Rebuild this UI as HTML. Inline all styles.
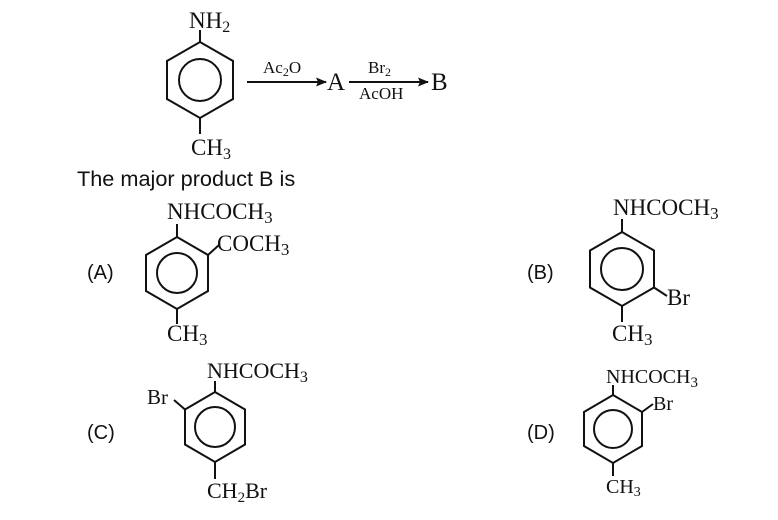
<!DOCTYPE html>
<html><head><style>
html,body{margin:0;padding:0;background:#fff;}
svg{display:block;}
.s{font-family:"Liberation Serif",serif;fill:#111;}
.a{font-family:"Liberation Sans",sans-serif;fill:#111;}
</style></head><body>
<svg width="778" height="520" viewBox="0 0 778 520" xmlns="http://www.w3.org/2000/svg">
<defs><marker id="ar" markerWidth="11" markerHeight="9" refX="10" refY="4.5" orient="auto" markerUnits="userSpaceOnUse"><path d="M0,0 L11,4.5 L0,9 L2,4.5 z" fill="#111"/></marker></defs>
<g fill="none" stroke="#111" stroke-width="2">
<polygon points="200,42 233,61 233,99 200,118 167,99 167,61"/>
<circle cx="200" cy="80" r="21"/>
<line x1="200" y1="30" x2="200" y2="42"/>
<line x1="200" y1="118" x2="200" y2="134"/>
<line x1="247" y1="82" x2="326" y2="82" marker-end="url(#ar)"/>
<line x1="349" y1="82" x2="428" y2="82" marker-end="url(#ar)"/>
<polygon points="177,237 208,255 208,291 177,309 146,291 146,255"/>
<circle cx="177" cy="273" r="20"/>
<line x1="177" y1="224" x2="177" y2="237"/>
<line x1="208" y1="255" x2="219" y2="245"/>
<line x1="177" y1="309" x2="177" y2="324"/>
<polygon points="622,232 654,250.5 654,287.5 622,306 590,287.5 590,250.5"/>
<circle cx="622" cy="269" r="21"/>
<line x1="622" y1="219" x2="622" y2="232"/>
<line x1="654" y1="287.5" x2="667" y2="296"/>
<line x1="622" y1="306" x2="622" y2="322"/>
<polygon points="215,392 245,409.5 245,444.5 215,462 185,444.5 185,409.5"/>
<circle cx="215" cy="427" r="20"/>
<line x1="215" y1="381" x2="215" y2="392"/>
<line x1="185" y1="409.5" x2="174" y2="400"/>
<line x1="215" y1="462" x2="215" y2="479"/>
<polygon points="613,395 642,412 642,446 613,463 584,446 584,412"/>
<circle cx="613" cy="429" r="19"/>
<line x1="613" y1="385" x2="613" y2="395"/>
<line x1="642" y1="412" x2="653" y2="404"/>
<line x1="613" y1="463" x2="613" y2="476"/>
</g>
<g class="s">
<text x="189" y="28" font-size="23">NH<tspan font-size="16" dy="4">2</tspan></text>
<text x="191" y="155" font-size="23">CH<tspan font-size="16" dy="4">3</tspan></text>
<text x="263" y="73" font-size="17">Ac<tspan font-size="12" dy="3">2</tspan><tspan dy="-3">O</tspan></text>
<text x="327" y="90" font-size="25">A</text>
<text x="368" y="73" font-size="17">Br<tspan font-size="12" dy="3">2</tspan></text>
<text x="359" y="99" font-size="17">AcOH</text>
<text x="431" y="90" font-size="25">B</text>

<text x="167" y="219" font-size="23">NHCOCH<tspan font-size="17" dy="4">3</tspan></text>
<text x="217" y="251" font-size="23">COCH<tspan font-size="17" dy="4">3</tspan></text>
<text x="167" y="341" font-size="23">CH<tspan font-size="17" dy="4">3</tspan></text>

<text x="613" y="215" font-size="23">NHCOCH<tspan font-size="17" dy="4">3</tspan></text>
<text x="667" y="305" font-size="23">Br</text>
<text x="612" y="341" font-size="23">CH<tspan font-size="17" dy="4">3</tspan></text>

<text x="207" y="378" font-size="22">NHCOCH<tspan font-size="16" dy="4">3</tspan></text>
<text x="147" y="404" font-size="21">Br</text>
<text x="207" y="498" font-size="22">CH<tspan font-size="15" dy="4">2</tspan><tspan dy="-4">Br</tspan></text>

<text x="606" y="383" font-size="20">NHCOCH<tspan font-size="15" dy="4">3</tspan></text>
<text x="653" y="410" font-size="20">Br</text>
<text x="606" y="493" font-size="20">CH<tspan font-size="14" dy="3">3</tspan></text>
</g>
<g class="a">
<text x="77" y="186" font-size="21.7">The major product B is</text>
<text x="87" y="279" font-size="20">(A)</text>
<text x="527" y="279" font-size="20">(B)</text>
<text x="87" y="439" font-size="20">(C)</text>
<text x="527" y="439" font-size="20">(D)</text>
</g>
</svg>
</body></html>
